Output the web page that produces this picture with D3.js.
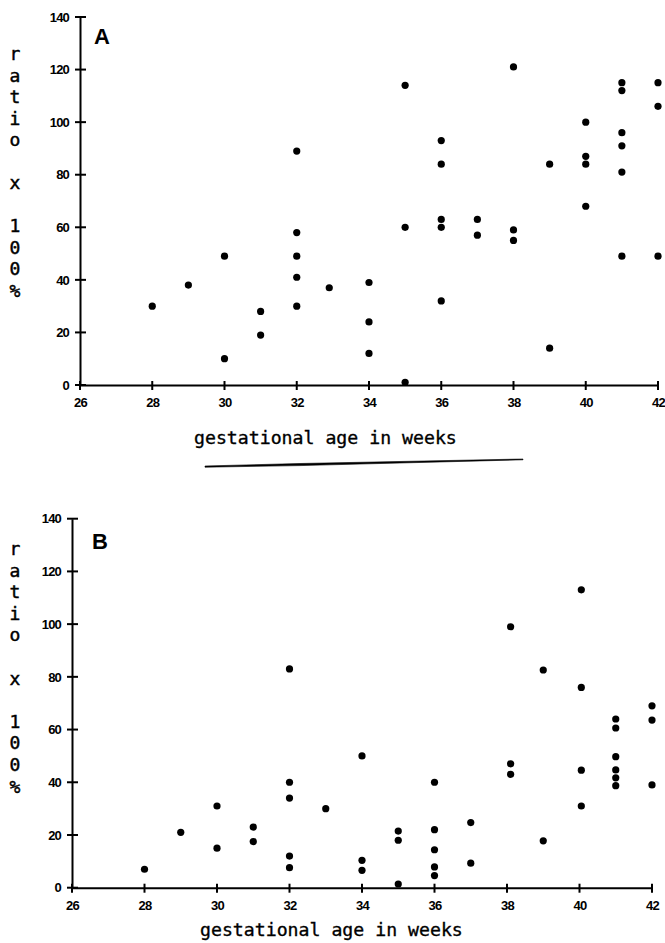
<!DOCTYPE html>
<html>
<head>
<meta charset="utf-8">
<script src="https://cdn.jsdelivr.net/npm/d3@7"></script>
<style>
body { margin: 0; background: #fff; }
</style>
</head>
<body>
<svg></svg>
<script>
const svgWidth = 665
const svgHeight = 943

// values (gestational age in weeks, ratio x 100%)
const weeksA = [28, 29, 30, 30, 31, 31, 32, 32, 32, 32, 32, 32.9, 34, 34, 34, 35, 35, 35,
    36, 36, 36, 36, 36, 37, 37, 38, 38, 38, 39, 39, 40, 40, 40, 40,
    41, 41, 41, 41, 41, 41, 42, 42, 42]
const ratioA = [30, 38, 49, 10, 28, 19, 89, 58, 49, 41, 30, 37, 39, 24, 12, 114, 60, 1,
    93, 84, 63, 60, 32, 63, 57, 121, 59, 55, 84, 14, 100, 87, 84, 68,
    115, 112, 96, 91, 81, 49, 115, 106, 49]

const weeksB = [28, 29, 30, 30, 31, 31, 32, 32, 32, 32, 32, 33, 34, 34, 34, 35, 35, 35,
    36, 36, 36, 36, 36, 37, 37, 38.1, 38.1, 38.1, 39, 39, 40.05, 40.05, 40.05, 40.05,
    41, 41, 41, 41, 41, 41, 42, 42, 42]
const ratioB = [7, 21, 31, 15, 23, 17.5, 83, 40, 34, 12, 7.6, 30, 50, 10.4, 6.6, 21.5, 18, 1.4,
    40, 22, 14.4, 7.9, 4.6, 24.7, 9.3, 99, 47, 43, 82.6, 17.8, 113, 76, 44.6, 31,
    64, 60.6, 49.7, 44.7, 41.7, 38.7, 69, 63.6, 39]

const xTicks = [26, 28, 30, 32, 34, 36, 38, 40, 42]
const yTicks = [0, 20, 40, 60, 80, 100, 120, 140]
const yLabelChars = ["r", "a", "t", "i", "o", "", "x", "", "1", "0", "0", "%"]
const xLabel = "gestational age in weeks"

const svg = d3.select("svg")
    .attr("width", svgWidth)
    .attr("height", svgHeight)

const panels = [
    { name: "A", weeks: weeksA, ratio: ratioA, x0: 80, x1: 658, y0: 385, y1: 17, nameX: 94, nameY: 44, labelX: 194, labelY: 444, yLabelTop: 60, pitch: 21.5 },
    { name: "B", weeks: weeksB, ratio: ratioB, x0: 72, x1: 652, y0: 887.7, y1: 518.7, nameX: 92, nameY: 549, labelX: 200, labelY: 936, yLabelTop: 555, pitch: 21.6 }
]

const tickFont = "Liberation Sans, Arial, sans-serif"

function drawPanel(p) {
    const xScale = d3.scaleLinear().domain([26, 42]).range([p.x0, p.x1])
    const yScale = d3.scaleLinear().domain([0, 140]).range([p.y0, p.y1])

    const g = svg.append("g")

    // axes (labels from d3, tick marks drawn below so they cross the line)
    const xAxis = g.append("g")
        .attr("transform", `translate(0,${p.y0})`)
        .call(d3.axisBottom(xScale).tickValues(xTicks).tickSizeInner(0).tickSizeOuter(0).tickPadding(13))
    xAxis.select(".domain").attr("stroke", "#000").attr("stroke-width", 2)
    xAxis.selectAll(".tick text")
        .attr("font-family", tickFont)
        .attr("font-weight", "bold")
        .attr("font-size", 13)
        .attr("letter-spacing", -0.8)
        .attr("fill", "#000")

    const yAxis = g.append("g")
        .attr("transform", `translate(${p.x0},0)`)
        .call(d3.axisLeft(yScale).tickValues(yTicks).tickSizeInner(0).tickSizeOuter(0).tickPadding(11))
    yAxis.select(".domain").attr("stroke", "#000").attr("stroke-width", 2)
    yAxis.selectAll(".tick text")
        .attr("font-family", tickFont)
        .attr("font-weight", "bold")
        .attr("font-size", 13)
        .attr("letter-spacing", -0.8)
        .attr("fill", "#000")

    g.selectAll(".xtick")
        .data(xTicks)
        .join("line")
        .attr("class", "xtick")
        .attr("x1", d => xScale(d)).attr("x2", d => xScale(d))
        .attr("y1", p.y0 - 4).attr("y2", p.y0 + 5)
        .attr("stroke", "#000").attr("stroke-width", 2)

    g.selectAll(".ytick")
        .data(yTicks)
        .join("line")
        .attr("class", "ytick")
        .attr("x1", p.x0 - 5).attr("x2", p.x0 + 6)
        .attr("y1", d => yScale(d)).attr("y2", d => yScale(d))
        .attr("stroke", "#000").attr("stroke-width", 2)

    // points
    g.selectAll(".dot")
        .data(p.weeks.map((w, i) => [w, p.ratio[i]]))
        .join("circle")
        .attr("class", "dot")
        .attr("cx", d => xScale(d[0]))
        .attr("cy", d => yScale(d[1]))
        .attr("r", 3.6)
        .attr("fill", "#000")

    // panel letter
    g.append("text")
        .text(p.name)
        .attr("x", p.nameX)
        .attr("y", p.nameY)
        .attr("font-family", "Liberation Sans, Arial, sans-serif")
        .attr("font-weight", "bold")
        .attr("font-size", 22)

    // x label
    g.append("text")
        .text(xLabel)
        .attr("x", p.labelX)
        .attr("y", p.labelY)
        .attr("font-family", "DejaVu Sans Mono, monospace")
        .attr("font-size", 18.2)
        .attr("stroke", "#000")
        .attr("stroke-width", 0.35)
        .attr("xml:space", "preserve")

    // stacked y label
    g.selectAll(".ylab")
        .data(yLabelChars)
        .join("text")
        .attr("class", "ylab")
        .text(d => d)
        .attr("x", 15)
        .attr("y", (d, i) => p.yLabelTop + i * p.pitch)
        .attr("text-anchor", "middle")
        .attr("font-family", "DejaVu Sans Mono, monospace")
        .attr("font-size", 18)
        .attr("stroke", "#000")
        .attr("stroke-width", 0.45)
}

panels.forEach(drawPanel)

// rule under the first panel's label
svg.append("path")
    .attr("d", "M205,466 L300,463.5 L523,459 L523,459.8 L300,465.6 L205,467.2 Z")
    .attr("fill", "#000")
    .attr("stroke", "#000")
    .attr("stroke-width", 0.6)
</script>
</body>
</html>
